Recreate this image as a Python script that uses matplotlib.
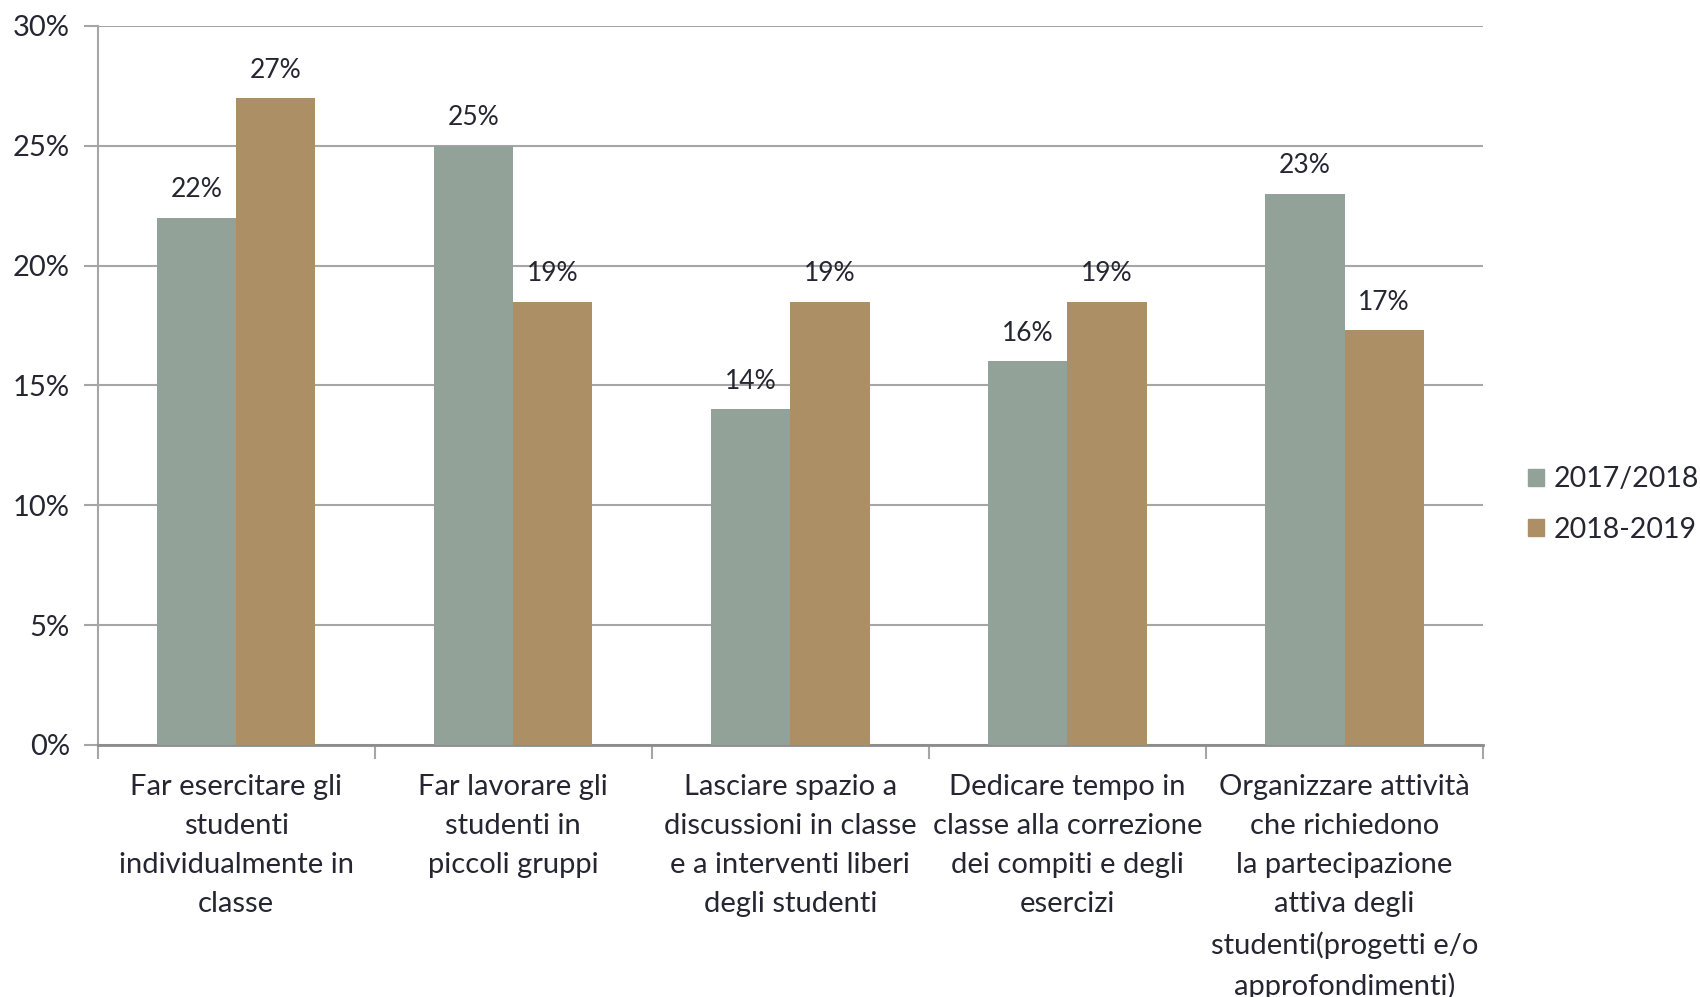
import matplotlib.pyplot as plt
from matplotlib.patches import Patch
import numpy as np

# data
categories = [
    "Far esercitare gli\nstudenti\nindividualmente in\nclasse",
    "Far lavorare gli\nstudenti in\npiccoli gruppi",
    "Lasciare spazio a\ndiscussioni in classe\ne a interventi liberi\ndegli studenti",
    "Dedicare tempo in\nclasse alla correzione\ndei compiti e degli\nesercizi",
    "Organizzare attività\nche richiedono\nla partecipazione\nattiva degli\nstudenti(progetti e/o\napprofondimenti)",
]
series_names = ["2017/2018", "2018-2019"]
values_1718 = [22, 25, 14, 16, 23]
values_1819 = [27, 18.5, 18.5, 18.5, 17.3]
labels_1718 = ["22%", "25%", "14%", "16%", "23%"]
labels_1819 = ["27%", "19%", "19%", "19%", "17%"]

green = "#93a299"
brown = "#ad8f65"
text_col = "#262632"
grid_col = "#a6a6a6"

plt.rcParams['font.family'] = ['Lato', 'DejaVu Sans']

fig = plt.figure(figsize=(17, 9.97), dpi=100)
ax = fig.add_axes([0.0574, 0.2528, 0.815, 0.7212])

x = np.arange(len(categories))
w = 0.286
b1 = ax.bar(x - w / 2, values_1718, w, color=green, zorder=3)
b2 = ax.bar(x + w / 2, values_1819, w, color=brown, zorder=3)

for bars, labels in ((b1, labels_1718), (b2, labels_1819)):
    for rect, lab in zip(bars, labels):
        ax.annotate(lab, (rect.get_x() + rect.get_width() / 2, rect.get_height()),
                    xytext=(0, 11), textcoords="offset points",
                    ha="center", va="bottom", fontsize=19, color=text_col)

ax.set_xlim(-0.5, len(categories) - 0.5)
ax.set_ylim(0, 30)
ax.set_yticks(range(0, 31, 5))
ax.set_yticklabels([f"{v}%" for v in range(0, 31, 5)])
ax.yaxis.grid(True, color=grid_col, linewidth=1.5, zorder=0)

# category boundary ticks on x
ax.set_xticks(np.arange(-0.5, len(categories), 1.0))
ax.set_xticklabels([])
ax.set_xticks(x, minor=True)
ax.set_xticklabels(categories, minor=True, fontsize=21, color=text_col,
                   linespacing=1.62, va="top")
ax.tick_params(axis="x", which="minor", length=0, pad=21)
ax.tick_params(axis="x", which="major", length=10, width=1.5, color=grid_col)
ax.tick_params(axis="y", length=10, width=1.5, color=grid_col,
               labelsize=21, labelcolor=text_col, pad=10)

for s in ("top", "right"):
    ax.spines[s].set_visible(False)
ax.spines["left"].set_color(grid_col)
ax.spines["left"].set_linewidth(1.5)
ax.spines["bottom"].set_color("#8c8c8c")
ax.spines["bottom"].set_linewidth(2)

handles = [Patch(color=green), Patch(color=brown)]
fig.legend(handles, series_names, loc="center left", bbox_to_anchor=(0.899, 0.494),
           frameon=False, fontsize=20.5, labelcolor=text_col, borderpad=0,
           borderaxespad=0, handlelength=0.55, handleheight=0.55,
           handletextpad=0.35, labelspacing=0.85)

fig.savefig("out.png", dpi=100, facecolor="white")
